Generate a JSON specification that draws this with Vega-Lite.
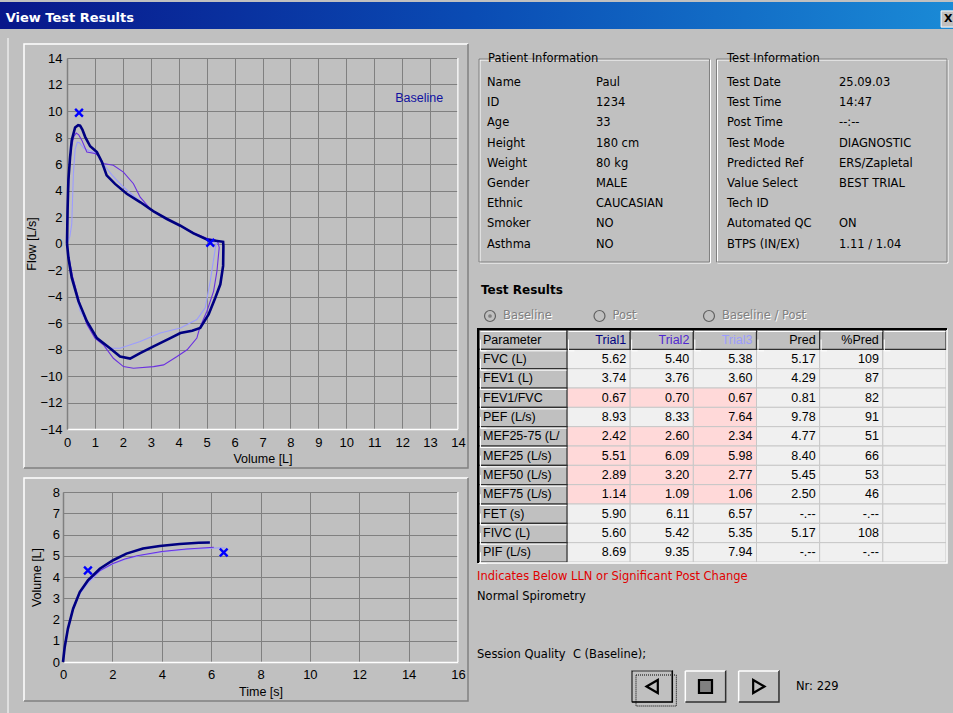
{
"$schema": "https://vega.github.io/schema/vega-lite/v6.json",
"width": 953,
"height": 713,
"autosize": {"type": "none"},
"padding": 0,
"background": "#c0c0c0",
"config": {
  "view": {"stroke": null},
  "axis": {"labelFont": "Liberation Sans", "labelFontSize": 13, "labelColor": "#000000", "titleFont": "Liberation Sans", "titleFontSize": 12.5, "titleFontWeight": "normal", "titleColor": "#000000", "ticks": false, "tickSize": 0, "gridColor": "#808080", "gridOpacity": 1, "gridWidth": 1, "labelFlush": false, "labelOverlap": false, "labelBound": false, "domainWidth": 1.5},
  "text": {"font": "DejaVu Sans", "fontSize": 11.5, "color": "#000000"}
},
"datasets": {
  "fv": [
    {"t":"Trial3","i":0,"v":0,"f":0},{"t":"Trial3","i":1,"v":0.1,"f":0.5},{"t":"Trial3","i":2,"v":0.17,"f":1.47},{"t":"Trial3","i":3,"v":0.23,"f":5.3},{"t":"Trial3","i":4,"v":0.29,"f":7.1},{"t":"Trial3","i":5,"v":0.37,"f":7.64},{"t":"Trial3","i":6,"v":0.45,"f":7.6},{"t":"Trial3","i":7,"v":0.6,"f":7.2},{"t":"Trial3","i":8,"v":0.8,"f":7.0},{"t":"Trial3","i":9,"v":1.1,"f":6.8},{"t":"Trial3","i":10,"v":1.3,"f":6.0},{"t":"Trial3","i":11,"v":1.6,"f":5.2},{"t":"Trial3","i":12,"v":2.0,"f":4.3},{"t":"Trial3","i":13,"v":2.5,"f":3.4},{"t":"Trial3","i":14,"v":3.0,"f":2.6},{"t":"Trial3","i":15,"v":3.5,"f":1.9},{"t":"Trial3","i":16,"v":4.0,"f":1.4},{"t":"Trial3","i":17,"v":4.5,"f":0.8},{"t":"Trial3","i":18,"v":5.0,"f":0.3},{"t":"Trial3","i":19,"v":5.25,"f":0.1},{"t":"Trial3","i":20,"v":5.38,"f":0},{"t":"Trial3","i":21,"v":5.33,"f":-0.1},{"t":"Trial3","i":22,"v":5.13,"f":-2.83},{"t":"Trial3","i":23,"v":4.95,"f":-4.86},{"t":"Trial3","i":24,"v":4.65,"f":-5.74},{"t":"Trial3","i":25,"v":4.06,"f":-6.38},{"t":"Trial3","i":26,"v":3.34,"f":-6.76},{"t":"Trial3","i":27,"v":2.62,"f":-7.39},{"t":"Trial3","i":28,"v":1.9,"f":-7.9},{"t":"Trial3","i":29,"v":1.54,"f":-7.9},{"t":"Trial3","i":30,"v":1.07,"f":-7.14},{"t":"Trial3","i":31,"v":0.47,"f":-5.1},{"t":"Trial3","i":32,"v":0.17,"f":-2.3},{"t":"Trial3","i":33,"v":0.05,"f":-0.6},{"t":"Trial3","i":34,"v":0,"f":0},
    {"t":"Trial2","i":0,"v":0,"f":0},{"t":"Trial2","i":1,"v":0.03,"f":3.0},{"t":"Trial2","i":2,"v":0.08,"f":5.5},{"t":"Trial2","i":3,"v":0.15,"f":7.2},{"t":"Trial2","i":4,"v":0.25,"f":8.1},{"t":"Trial2","i":5,"v":0.33,"f":8.33},{"t":"Trial2","i":6,"v":0.42,"f":8.2},{"t":"Trial2","i":7,"v":0.53,"f":7.8},{"t":"Trial2","i":8,"v":0.71,"f":6.9},{"t":"Trial2","i":9,"v":1.0,"f":6.79},{"t":"Trial2","i":10,"v":1.15,"f":6.6},{"t":"Trial2","i":11,"v":1.3,"f":6.03},{"t":"Trial2","i":12,"v":1.66,"f":5.9},{"t":"Trial2","i":13,"v":2.02,"f":5.39},{"t":"Trial2","i":14,"v":2.38,"f":4.51},{"t":"Trial2","i":15,"v":2.62,"f":3.5},{"t":"Trial2","i":16,"v":2.98,"f":2.61},{"t":"Trial2","i":17,"v":3.5,"f":1.95},{"t":"Trial2","i":18,"v":4.0,"f":1.4},{"t":"Trial2","i":19,"v":4.5,"f":0.85},{"t":"Trial2","i":20,"v":5.0,"f":0.4},{"t":"Trial2","i":21,"v":5.31,"f":0.26},{"t":"Trial2","i":22,"v":5.4,"f":0.1},{"t":"Trial2","i":23,"v":5.45,"f":-0.3},{"t":"Trial2","i":24,"v":5.37,"f":-2.07},{"t":"Trial2","i":25,"v":5.25,"f":-3.59},{"t":"Trial2","i":26,"v":5.01,"f":-5.11},{"t":"Trial2","i":27,"v":4.75,"f":-6.38},{"t":"Trial2","i":28,"v":4.65,"f":-7.14},{"t":"Trial2","i":29,"v":4.3,"f":-8.02},{"t":"Trial2","i":30,"v":3.94,"f":-8.53},{"t":"Trial2","i":31,"v":3.46,"f":-9.16},{"t":"Trial2","i":32,"v":3.1,"f":-9.29},{"t":"Trial2","i":33,"v":2.38,"f":-9.41},{"t":"Trial2","i":34,"v":2.02,"f":-9.29},{"t":"Trial2","i":35,"v":1.66,"f":-8.66},{"t":"Trial2","i":36,"v":1.3,"f":-7.64},{"t":"Trial2","i":37,"v":1.0,"f":-7.14},{"t":"Trial2","i":38,"v":0.71,"f":-6.1},{"t":"Trial2","i":39,"v":0.47,"f":-4.6},{"t":"Trial2","i":40,"v":0.2,"f":-2.5},{"t":"Trial2","i":41,"v":0.05,"f":-0.9},{"t":"Trial2","i":42,"v":0,"f":0},
    {"t":"Trial1","i":0,"v":0,"f":0},{"t":"Trial1","i":1,"v":0.02,"f":2.5},{"t":"Trial1","i":2,"v":0.05,"f":4.8},{"t":"Trial1","i":3,"v":0.11,"f":6.5},{"t":"Trial1","i":4,"v":0.17,"f":7.8},{"t":"Trial1","i":5,"v":0.29,"f":8.76},{"t":"Trial1","i":6,"v":0.4,"f":8.93},{"t":"Trial1","i":7,"v":0.47,"f":8.9},{"t":"Trial1","i":8,"v":0.55,"f":8.6},{"t":"Trial1","i":9,"v":0.65,"f":8.05},{"t":"Trial1","i":10,"v":0.83,"f":7.34},{"t":"Trial1","i":11,"v":1.07,"f":6.9},{"t":"Trial1","i":12,"v":1.25,"f":6.15},{"t":"Trial1","i":13,"v":1.42,"f":5.14},{"t":"Trial1","i":14,"v":1.72,"f":4.5},{"t":"Trial1","i":15,"v":2.14,"f":3.75},{"t":"Trial1","i":16,"v":2.63,"f":3.11},{"t":"Trial1","i":17,"v":3.1,"f":2.43},{"t":"Trial1","i":18,"v":3.58,"f":1.85},{"t":"Trial1","i":19,"v":4.06,"f":1.34},{"t":"Trial1","i":20,"v":4.53,"f":0.76},{"t":"Trial1","i":21,"v":5.01,"f":0.3},{"t":"Trial1","i":22,"v":5.59,"f":0.13},{"t":"Trial1","i":23,"v":5.6,"f":-0.2},{"t":"Trial1","i":24,"v":5.59,"f":-1.69},{"t":"Trial1","i":25,"v":5.49,"f":-3.08},{"t":"Trial1","i":26,"v":5.31,"f":-4.1},{"t":"Trial1","i":27,"v":5.07,"f":-5.36},{"t":"Trial1","i":28,"v":4.77,"f":-6.38},{"t":"Trial1","i":29,"v":4.48,"f":-6.58},{"t":"Trial1","i":30,"v":4.06,"f":-6.76},{"t":"Trial1","i":31,"v":3.7,"f":-7.14},{"t":"Trial1","i":32,"v":3.1,"f":-7.77},{"t":"Trial1","i":33,"v":2.62,"f":-8.28},{"t":"Trial1","i":34,"v":2.26,"f":-8.69},{"t":"Trial1","i":35,"v":1.9,"f":-8.53},{"t":"Trial1","i":36,"v":1.54,"f":-7.9},{"t":"Trial1","i":37,"v":1.07,"f":-7.14},{"t":"Trial1","i":38,"v":0.71,"f":-5.87},{"t":"Trial1","i":39,"v":0.41,"f":-4.35},{"t":"Trial1","i":40,"v":0.17,"f":-2.58},{"t":"Trial1","i":41,"v":0.05,"f":-1.06},{"t":"Trial1","i":42,"v":0,"f":0}
  ],
  "fvm": [{"v":0.43,"f":9.87},{"v":5.13,"f":0.05}],
  "vt": [
    {"t":"Trial3","i":0,"s":0,"l":0},{"t":"Trial3","i":1,"s":0.07,"l":0.7},{"t":"Trial3","i":2,"s":0.2,"l":1.55},{"t":"Trial3","i":3,"s":0.41,"l":2.45},{"t":"Trial3","i":4,"s":0.68,"l":3.2},{"t":"Trial3","i":5,"s":1.0,"l":3.7},{"t":"Trial3","i":6,"s":1.5,"l":4.28},{"t":"Trial3","i":7,"s":2.0,"l":4.6},{"t":"Trial3","i":8,"s":2.5,"l":4.82},{"t":"Trial3","i":9,"s":3.0,"l":4.98},{"t":"Trial3","i":10,"s":4.0,"l":5.18},{"t":"Trial3","i":11,"s":5.0,"l":5.3},{"t":"Trial3","i":12,"s":6.0,"l":5.36},{"t":"Trial3","i":13,"s":6.57,"l":5.38},
    {"t":"Trial2","i":0,"s":0,"l":0},{"t":"Trial2","i":1,"s":0.07,"l":0.75},{"t":"Trial2","i":2,"s":0.2,"l":1.6},{"t":"Trial2","i":3,"s":0.41,"l":2.55},{"t":"Trial2","i":4,"s":0.68,"l":3.3},{"t":"Trial2","i":5,"s":1.0,"l":3.8},{"t":"Trial2","i":6,"s":1.5,"l":4.3},{"t":"Trial2","i":7,"s":2.0,"l":4.62},{"t":"Trial2","i":8,"s":2.5,"l":4.85},{"t":"Trial2","i":9,"s":3.0,"l":5.0},{"t":"Trial2","i":10,"s":4.0,"l":5.2},{"t":"Trial2","i":11,"s":5.0,"l":5.32},{"t":"Trial2","i":12,"s":6.11,"l":5.4},
    {"t":"Trial1","i":0,"s":0,"l":0},{"t":"Trial1","i":1,"s":0.07,"l":0.71},{"t":"Trial1","i":2,"s":0.2,"l":1.57},{"t":"Trial1","i":3,"s":0.41,"l":2.51},{"t":"Trial1","i":4,"s":0.68,"l":3.29},{"t":"Trial1","i":5,"s":1.01,"l":3.84},{"t":"Trial1","i":6,"s":1.49,"l":4.39},{"t":"Trial1","i":7,"s":2.03,"l":4.79},{"t":"Trial1","i":8,"s":2.57,"l":5.1},{"t":"Trial1","i":9,"s":3.24,"l":5.34},{"t":"Trial1","i":10,"s":3.92,"l":5.46},{"t":"Trial1","i":11,"s":4.73,"l":5.55},{"t":"Trial1","i":12,"s":5.5,"l":5.61},{"t":"Trial1","i":13,"s":5.95,"l":5.62}
  ],
  "vtm": [{"s":1.01,"l":4.31},{"s":6.51,"l":5.15}],
  "boxes": [{"b":"Patient Information"},{"b":"Test Information"}],
  "info": [
    {"b":"Patient Information","i":0,"k":"Name","v":"Paul"},
    {"b":"Patient Information","i":1,"k":"ID","v":"1234"},
    {"b":"Patient Information","i":2,"k":"Age","v":"33"},
    {"b":"Patient Information","i":3,"k":"Height","v":"180 cm"},
    {"b":"Patient Information","i":4,"k":"Weight","v":"\u00a080 kg"},
    {"b":"Patient Information","i":5,"k":"Gender","v":"MALE"},
    {"b":"Patient Information","i":6,"k":"Ethnic","v":"CAUCASIAN"},
    {"b":"Patient Information","i":7,"k":"Smoker","v":"NO"},
    {"b":"Patient Information","i":8,"k":"Asthma","v":"NO"},
    {"b":"Test Information","i":0,"k":"Test Date","v":"25.09.03"},
    {"b":"Test Information","i":1,"k":"Test Time","v":"14:47"},
    {"b":"Test Information","i":2,"k":"Post Time","v":"--:--"},
    {"b":"Test Information","i":3,"k":"Test Mode","v":"DIAGNOSTIC"},
    {"b":"Test Information","i":4,"k":"Predicted Ref","v":"ERS/Zapletal"},
    {"b":"Test Information","i":5,"k":"Value Select","v":"BEST TRIAL"},
    {"b":"Test Information","i":6,"k":"Tech ID","v":""},
    {"b":"Test Information","i":7,"k":"Automated QC","v":"ON"},
    {"b":"Test Information","i":8,"k":"BTPS (IN/EX)","v":"1.11 / 1.04"}
  ],
  "radios": [{"o":"Baseline","sel":"yes"},{"o":"Post","sel":"no"},{"o":"Baseline / Post","sel":"no"}],
  "params": [{"p":"Parameter"},{"p":"FVC (L)"},{"p":"FEV1 (L)"},{"p":"FEV1/FVC"},{"p":"PEF (L/s)"},{"p":"MEF25-75 (L/s)"},{"p":"MEF25 (L/s)"},{"p":"MEF50 (L/s)"},{"p":"MEF75 (L/s)"},{"p":"FET (s)"},{"p":"FIVC (L)"},{"p":"PIF (L/s)"}],
  "hdr": [{"c":"Trial1","h":"Trial1"},{"c":"Trial2","h":"Trial2"},{"c":"Trial3","h":"Trial3"},{"c":"Pred","h":"Pred"},{"c":"%Pred","h":"%Pred"},{"c":"blank","h":""}],
  "cells": [
    {"p":"FVC (L)","c":"Trial1","v":"5.62","flag":"ok"},{"p":"FVC (L)","c":"Trial2","v":"5.40","flag":"ok"},{"p":"FVC (L)","c":"Trial3","v":"5.38","flag":"ok"},{"p":"FVC (L)","c":"Pred","v":"5.17","flag":"ok"},{"p":"FVC (L)","c":"%Pred","v":"109","flag":"ok"},{"p":"FVC (L)","c":"blank","v":"","flag":"ok"},
    {"p":"FEV1 (L)","c":"Trial1","v":"3.74","flag":"ok"},{"p":"FEV1 (L)","c":"Trial2","v":"3.76","flag":"ok"},{"p":"FEV1 (L)","c":"Trial3","v":"3.60","flag":"ok"},{"p":"FEV1 (L)","c":"Pred","v":"4.29","flag":"ok"},{"p":"FEV1 (L)","c":"%Pred","v":"87","flag":"ok"},{"p":"FEV1 (L)","c":"blank","v":"","flag":"ok"},
    {"p":"FEV1/FVC","c":"Trial1","v":"0.67","flag":"low"},{"p":"FEV1/FVC","c":"Trial2","v":"0.70","flag":"low"},{"p":"FEV1/FVC","c":"Trial3","v":"0.67","flag":"low"},{"p":"FEV1/FVC","c":"Pred","v":"0.81","flag":"ok"},{"p":"FEV1/FVC","c":"%Pred","v":"82","flag":"ok"},{"p":"FEV1/FVC","c":"blank","v":"","flag":"ok"},
    {"p":"PEF (L/s)","c":"Trial1","v":"8.93","flag":"ok"},{"p":"PEF (L/s)","c":"Trial2","v":"8.33","flag":"ok"},{"p":"PEF (L/s)","c":"Trial3","v":"7.64","flag":"low"},{"p":"PEF (L/s)","c":"Pred","v":"9.78","flag":"ok"},{"p":"PEF (L/s)","c":"%Pred","v":"91","flag":"ok"},{"p":"PEF (L/s)","c":"blank","v":"","flag":"ok"},
    {"p":"MEF25-75 (L/s)","c":"Trial1","v":"2.42","flag":"low"},{"p":"MEF25-75 (L/s)","c":"Trial2","v":"2.60","flag":"low"},{"p":"MEF25-75 (L/s)","c":"Trial3","v":"2.34","flag":"low"},{"p":"MEF25-75 (L/s)","c":"Pred","v":"4.77","flag":"ok"},{"p":"MEF25-75 (L/s)","c":"%Pred","v":"51","flag":"ok"},{"p":"MEF25-75 (L/s)","c":"blank","v":"","flag":"ok"},
    {"p":"MEF25 (L/s)","c":"Trial1","v":"5.51","flag":"low"},{"p":"MEF25 (L/s)","c":"Trial2","v":"6.09","flag":"low"},{"p":"MEF25 (L/s)","c":"Trial3","v":"5.98","flag":"low"},{"p":"MEF25 (L/s)","c":"Pred","v":"8.40","flag":"ok"},{"p":"MEF25 (L/s)","c":"%Pred","v":"66","flag":"ok"},{"p":"MEF25 (L/s)","c":"blank","v":"","flag":"ok"},
    {"p":"MEF50 (L/s)","c":"Trial1","v":"2.89","flag":"low"},{"p":"MEF50 (L/s)","c":"Trial2","v":"3.20","flag":"low"},{"p":"MEF50 (L/s)","c":"Trial3","v":"2.77","flag":"low"},{"p":"MEF50 (L/s)","c":"Pred","v":"5.45","flag":"ok"},{"p":"MEF50 (L/s)","c":"%Pred","v":"53","flag":"ok"},{"p":"MEF50 (L/s)","c":"blank","v":"","flag":"ok"},
    {"p":"MEF75 (L/s)","c":"Trial1","v":"1.14","flag":"low"},{"p":"MEF75 (L/s)","c":"Trial2","v":"1.09","flag":"low"},{"p":"MEF75 (L/s)","c":"Trial3","v":"1.06","flag":"low"},{"p":"MEF75 (L/s)","c":"Pred","v":"2.50","flag":"ok"},{"p":"MEF75 (L/s)","c":"%Pred","v":"46","flag":"ok"},{"p":"MEF75 (L/s)","c":"blank","v":"","flag":"ok"},
    {"p":"FET (s)","c":"Trial1","v":"5.90","flag":"ok"},{"p":"FET (s)","c":"Trial2","v":"6.11","flag":"ok"},{"p":"FET (s)","c":"Trial3","v":"6.57","flag":"ok"},{"p":"FET (s)","c":"Pred","v":"-.--","flag":"ok"},{"p":"FET (s)","c":"%Pred","v":"-.--","flag":"ok"},{"p":"FET (s)","c":"blank","v":"","flag":"ok"},
    {"p":"FIVC (L)","c":"Trial1","v":"5.60","flag":"ok"},{"p":"FIVC (L)","c":"Trial2","v":"5.42","flag":"ok"},{"p":"FIVC (L)","c":"Trial3","v":"5.35","flag":"ok"},{"p":"FIVC (L)","c":"Pred","v":"5.17","flag":"ok"},{"p":"FIVC (L)","c":"%Pred","v":"108","flag":"ok"},{"p":"FIVC (L)","c":"blank","v":"","flag":"ok"},
    {"p":"PIF (L/s)","c":"Trial1","v":"8.69","flag":"ok"},{"p":"PIF (L/s)","c":"Trial2","v":"9.35","flag":"ok"},{"p":"PIF (L/s)","c":"Trial3","v":"7.94","flag":"ok"},{"p":"PIF (L/s)","c":"Pred","v":"-.--","flag":"ok"},{"p":"PIF (L/s)","c":"%Pred","v":"-.--","flag":"ok"},{"p":"PIF (L/s)","c":"blank","v":"","flag":"ok"}
  ],
  "notes": [{"line":0,"t":"Indicates Below LLN or Significant Post Change","kind":"warn"},{"line":1,"t":"Normal Spirometry","kind":"text"},{"line":4,"t":"Session Quality\u00a0 C (Baseline);","kind":"text"}],
  "buttons": [{"b":"prev"},{"b":"stop"},{"b":"next"}]
},
"layer": [
  {"data": {"values": [{"title": "View Test Results"}]},
   "mark": {"type": "rect", "color": {"gradient": "linear", "x1": 0, "x2": 1, "y1": 0, "y2": 0, "stops": [{"offset": 0, "color": "#08168a"}, {"offset": 0.5, "color": "#0a4cb4"}, {"offset": 1, "color": "#1a8ad6"}]}},
   "encoding": {"x": {"datum": 0, "type": "quantitative", "scale": {"domain": [0, 1], "range": [0, 953]}, "axis": null}, "x2": {"datum": 1}, "y": {"datum": 0, "type": "quantitative", "scale": {"domain": [0, 1], "range": [2, 29]}, "axis": null}, "y2": {"datum": 1}}},
  {"data": {"values": [{"title": "View Test Results"}]},
   "mark": {"type": "text", "align": "left", "baseline": "middle", "font": "DejaVu Sans", "fontSize": 13, "fontWeight": "bold", "color": "#ffffff"},
   "encoding": {"text": {"field": "title"}, "x": {"datum": 0.006, "type": "quantitative", "scale": {"domain": [0, 1], "range": [0, 953]}, "axis": null}, "y": {"datum": 0.58, "type": "quantitative", "scale": {"domain": [0, 1], "range": [2, 29]}, "axis": null}}},
  {"data": {"values": [{"x": "X"}]},
   "mark": {"type": "rect", "fill": "#c0c0c0", "stroke": "#ffffff", "strokeWidth": 1},
   "encoding": {"x": {"datum": 0.9875, "type": "quantitative", "scale": {"domain": [0, 1], "range": [0, 953]}, "axis": null}, "x2": {"datum": 1.02}, "y": {"datum": 0.33, "type": "quantitative", "scale": {"domain": [0, 1], "range": [2, 29]}, "axis": null}, "y2": {"datum": 0.93}}},
  {"data": {"values": [{"x": "X"}]},
   "mark": {"type": "text", "align": "left", "baseline": "middle", "font": "DejaVu Sans", "fontSize": 11, "fontWeight": "bold", "color": "#000000"},
   "encoding": {"text": {"field": "x"}, "x": {"datum": 0.9905, "type": "quantitative", "scale": {"domain": [0, 1], "range": [0, 953]}, "axis": null}, "y": {"datum": 0.64, "type": "quantitative", "scale": {"domain": [0, 1], "range": [2, 29]}, "axis": null}}},

  {"data": {"values": [{"panel": "flow"}]},
   "mark": {"type": "rect", "filled": false, "color": "#ffffff", "strokeWidth": 1.5, "strokeDash": [444, 868, 424]},
   "encoding": {"x": {"datum": "p", "type": "nominal", "scale": {"type": "band", "domain": ["p"], "range": [24, 468], "paddingInner": 0, "paddingOuter": 0}, "axis": null},
                "y": {"datum": "p", "type": "nominal", "scale": {"type": "band", "domain": ["p"], "range": [44, 468], "paddingInner": 0, "paddingOuter": 0}, "axis": null}}},
  {"data": {"values": [{"panel": "flow"}]},
   "mark": {"type": "rect", "filled": false, "color": "#808080", "strokeWidth": 1.5, "strokeDash": [0, 444, 868, 424]},
   "encoding": {"x": {"datum": "p", "type": "nominal", "scale": {"type": "band", "domain": ["p"], "range": [24, 468], "paddingInner": 0, "paddingOuter": 0}, "axis": null},
                "y": {"datum": "p", "type": "nominal", "scale": {"type": "band", "domain": ["p"], "range": [44, 468], "paddingInner": 0, "paddingOuter": 0}, "axis": null}}},
  {"data": {"values": [{"panel": "time"}]},
   "mark": {"type": "rect", "filled": false, "color": "#ffffff", "strokeWidth": 1.5, "strokeDash": [444, 667, 223]},
   "encoding": {"x": {"datum": "p", "type": "nominal", "scale": {"type": "band", "domain": ["p"], "range": [24, 468], "paddingInner": 0, "paddingOuter": 0}, "axis": null},
                "y": {"datum": "p", "type": "nominal", "scale": {"type": "band", "domain": ["p"], "range": [478, 701], "paddingInner": 0, "paddingOuter": 0}, "axis": null}}},
  {"data": {"values": [{"panel": "time"}]},
   "mark": {"type": "rect", "filled": false, "color": "#808080", "strokeWidth": 1.5, "strokeDash": [0, 444, 667, 223]},
   "encoding": {"x": {"datum": "p", "type": "nominal", "scale": {"type": "band", "domain": ["p"], "range": [24, 468], "paddingInner": 0, "paddingOuter": 0}, "axis": null},
                "y": {"datum": "p", "type": "nominal", "scale": {"type": "band", "domain": ["p"], "range": [478, 701], "paddingInner": 0, "paddingOuter": 0}, "axis": null}}},
  {"data": {"values": [{"panel": "left"}]},
   "mark": {"type": "rule", "color": "#ffffff", "strokeWidth": 1},
   "encoding": {"x": {"datum": "p", "type": "nominal", "scale": {"type": "band", "domain": ["p"], "range": [8, 470], "paddingInner": 0, "paddingOuter": 0}, "bandPosition": 0, "axis": null},
                "y": {"datum": 0, "type": "quantitative", "scale": {"domain": [0, 1], "range": [38, 713]}, "axis": null}, "y2": {"datum": 1}}},

  {"data": {"name": "fv"},
   "transform": [{"filter": "datum.t !== 'Trial1'"}],
   "mark": {"type": "line", "strokeWidth": 1.1},
   "encoding": {
     "x": {"field": "v", "type": "quantitative", "scale": {"domain": [0, 14], "range": [67, 458], "nice": false, "zero": false},
           "axis": {"orient": "bottom", "offset": -284, "values": [0,1,2,3,4,5,6,7,8,9,10,11,12,13,14], "grid": false, "domainColor": "#ffffff", "labelPadding": 7.5, "title": "Volume [L]", "titlePadding": 3}},
     "y": {"field": "f", "type": "quantitative", "scale": {"domain": [-14, 14], "range": [429, 58], "nice": false, "zero": false},
           "axis": {"orient": "left", "offset": -67, "values": [-14,-12,-10,-8,-6,-4,-2,0,2,4,6,8,10,12,14], "grid": true, "domainColor": "#808080", "labelPadding": 5, "title": "Flow [L/s]", "titlePadding": 1}},
     "color": {"field": "t", "type": "nominal", "scale": {"domain": ["Trial1", "Trial2", "Trial3"], "range": ["#000080", "#6a30e0", "#9c9cff"]}, "legend": null},
     "order": {"field": "i", "type": "quantitative"}
   }},
  {"data": {"name": "fv"},
   "transform": [{"filter": "datum.t === 'Trial1'"}],
   "mark": {"type": "line", "strokeWidth": 2.6},
   "encoding": {
     "x": {"field": "v", "type": "quantitative", "scale": {"domain": [0, 14], "range": [67, 458], "nice": false, "zero": false},
           "axis": {"orient": "top", "offset": 0, "values": [0,1,2,3,4,5,6,7,8,9,10,11,12,13,14], "grid": true, "labels": false, "domain": false, "ticks": false, "title": null}},
     "y": {"field": "f", "type": "quantitative", "scale": {"domain": [-14, 14], "range": [429, 58], "nice": false, "zero": false}, "axis": null},
     "color": {"field": "t", "type": "nominal", "scale": {"domain": ["Trial1", "Trial2", "Trial3"], "range": ["#000080", "#6a30e0", "#9c9cff"]}, "legend": null},
     "order": {"field": "i", "type": "quantitative"}
   }},
  {"data": {"name": "fvm"},
   "mark": {"type": "point", "shape": "M-1,-1L1,1M1,-1L-1,1", "filled": false, "size": 60, "strokeWidth": 2.4, "color": "#0000ff", "opacity": 1},
   "encoding": {
     "x": {"field": "v", "type": "quantitative", "scale": {"domain": [0, 14], "range": [67, 458], "nice": false, "zero": false}, "axis": null},
     "y": {"field": "f", "type": "quantitative", "scale": {"domain": [-14, 14], "range": [429, 58], "nice": false, "zero": false}, "axis": null}
   }},
  {"data": {"values": [{"label": "Baseline"}]},
   "mark": {"type": "text", "align": "left", "baseline": "middle", "font": "Liberation Sans", "fontSize": 12.5, "color": "#1010a0"},
   "encoding": {
     "text": {"field": "label"},
     "x": {"datum": 11.75, "type": "quantitative", "scale": {"domain": [0, 14], "range": [67, 458], "nice": false, "zero": false}, "axis": null},
     "y": {"datum": 11, "type": "quantitative", "scale": {"domain": [-14, 14], "range": [429, 58], "nice": false, "zero": false}, "axis": null}
   }},
  {"data": {"values": [{"edge": "right"}]},
   "mark": {"type": "rule", "color": "#ffffff", "strokeWidth": 1.5},
   "encoding": {
     "x": {"datum": 14, "type": "quantitative", "scale": {"domain": [0, 14], "range": [67, 458], "nice": false, "zero": false}, "axis": null},
     "y": {"datum": -14, "type": "quantitative", "scale": {"domain": [-14, 14], "range": [429, 58], "nice": false, "zero": false}, "axis": null},
     "y2": {"datum": 14}
   }},

  {"data": {"name": "vt"},
   "transform": [{"filter": "datum.t !== 'Trial1'"}],
   "mark": {"type": "line", "strokeWidth": 1.1},
   "encoding": {
     "x": {"field": "s", "type": "quantitative", "scale": {"domain": [0, 16], "range": [63, 458], "nice": false, "zero": false},
           "axis": {"orient": "bottom", "offset": -51, "values": [0,2,4,6,8,10,12,14,16], "grid": false, "domainColor": "#ffffff", "labelPadding": 6.5, "title": "Time [s]", "titlePadding": 4}},
     "y": {"field": "l", "type": "quantitative", "scale": {"domain": [0, 8], "range": [662, 492], "nice": false, "zero": false},
           "axis": {"orient": "left", "offset": -63, "values": [0,1,2,3,4,5,6,7,8], "grid": true, "domainColor": "#808080", "labelPadding": 3.5, "title": "Volume [L]", "titlePadding": 9}},
     "color": {"field": "t", "type": "nominal", "scale": {"domain": ["Trial1", "Trial2", "Trial3"], "range": ["#000080", "#6a30e0", "#9c9cff"]}, "legend": null},
     "order": {"field": "i", "type": "quantitative"}
   }},
  {"data": {"name": "vt"},
   "transform": [{"filter": "datum.t === 'Trial1'"}],
   "mark": {"type": "line", "strokeWidth": 2.6},
   "encoding": {
     "x": {"field": "s", "type": "quantitative", "scale": {"domain": [0, 16], "range": [63, 458], "nice": false, "zero": false},
           "axis": {"orient": "top", "offset": 0, "values": [0,2,4,6,8,10,12,14,16], "grid": true, "labels": false, "domain": false, "ticks": false, "title": null}},
     "y": {"field": "l", "type": "quantitative", "scale": {"domain": [0, 8], "range": [662, 492], "nice": false, "zero": false}, "axis": null},
     "color": {"field": "t", "type": "nominal", "scale": {"domain": ["Trial1", "Trial2", "Trial3"], "range": ["#000080", "#6a30e0", "#9c9cff"]}, "legend": null},
     "order": {"field": "i", "type": "quantitative"}
   }},
  {"data": {"name": "vtm"},
   "mark": {"type": "point", "shape": "M-1,-1L1,1M1,-1L-1,1", "filled": false, "size": 60, "strokeWidth": 2.4, "color": "#0000ff", "opacity": 1},
   "encoding": {
     "x": {"field": "s", "type": "quantitative", "scale": {"domain": [0, 16], "range": [63, 458], "nice": false, "zero": false}, "axis": null},
     "y": {"field": "l", "type": "quantitative", "scale": {"domain": [0, 8], "range": [662, 492], "nice": false, "zero": false}, "axis": null}
   }},
  {"data": {"values": [{"edge": "right"}]},
   "mark": {"type": "rule", "color": "#ffffff", "strokeWidth": 1.5},
   "encoding": {
     "x": {"datum": 16, "type": "quantitative", "scale": {"domain": [0, 16], "range": [63, 458], "nice": false, "zero": false}, "axis": null},
     "y": {"datum": 0, "type": "quantitative", "scale": {"domain": [0, 8], "range": [662, 492], "nice": false, "zero": false}, "axis": null},
     "y2": {"datum": 8}
   }},

  {"data": {"name": "boxes"},
   "mark": {"type": "rect", "filled": false, "color": "#ffffff", "strokeWidth": 1, "xOffset": 1, "x2Offset": 1, "yOffset": 1, "y2Offset": 1},
   "encoding": {
     "x": {"field": "b", "type": "nominal", "scale": {"type": "band", "domain": ["Patient Information", "Test Information"], "range": [479, 947], "paddingInner": 0.0295, "paddingOuter": 0}, "axis": null},
     "y": {"datum": "f", "type": "nominal", "scale": {"type": "band", "domain": ["f"], "range": [59, 262], "paddingInner": 0, "paddingOuter": 0}, "axis": null},
     "strokeDash": {"field": "b", "type": "nominal", "scale": {"domain": ["Patient Information", "Test Information"], "range": [[5, 118, 10000], [5, 104, 10000]]}, "legend": null}
   }},
  {"data": {"name": "boxes"},
   "mark": {"type": "rect", "filled": false, "color": "#808080", "strokeWidth": 1},
   "encoding": {
     "x": {"field": "b", "type": "nominal", "scale": {"type": "band", "domain": ["Patient Information", "Test Information"], "range": [479, 947], "paddingInner": 0.0295, "paddingOuter": 0}, "axis": null},
     "y": {"datum": "f", "type": "nominal", "scale": {"type": "band", "domain": ["f"], "range": [59, 262], "paddingInner": 0, "paddingOuter": 0}, "axis": null},
     "strokeDash": {"field": "b", "type": "nominal", "scale": {"domain": ["Patient Information", "Test Information"], "range": [[5, 118, 10000], [5, 104, 10000]]}, "legend": null}
   }},
  {"data": {"name": "boxes"},
   "mark": {"type": "text", "align": "left", "baseline": "middle"},
   "encoding": {
     "text": {"field": "b"},
     "x": {"field": "b", "type": "nominal", "scale": {"type": "point", "domain": ["Patient Information", "Test Information"], "range": [488, 727], "padding": 0}, "axis": null},
     "y": {"datum": "f", "type": "nominal", "scale": {"type": "band", "domain": ["f"], "range": [59, 262], "paddingInner": 0, "paddingOuter": 0}, "bandPosition": 0, "axis": null}
   }},
  {"data": {"name": "info"},
   "mark": {"type": "text", "align": "left", "baseline": "middle"},
   "encoding": {
     "text": {"field": "k"},
     "x": {"field": "b", "type": "nominal", "scale": {"type": "point", "domain": ["Patient Information", "Test Information"], "range": [487, 727], "padding": 0}, "axis": null},
     "y": {"field": "i", "type": "ordinal", "scale": {"type": "point", "domain": [0,1,2,3,4,5,6,7,8], "range": [83, 244.5], "padding": 0}, "axis": null}
   }},
  {"data": {"name": "info"},
   "mark": {"type": "text", "align": "left", "baseline": "middle"},
   "encoding": {
     "text": {"field": "v"},
     "x": {"field": "b", "type": "nominal", "scale": {"type": "point", "domain": ["Patient Information", "Test Information"], "range": [596, 839], "padding": 0}, "axis": null},
     "y": {"field": "i", "type": "ordinal", "scale": {"type": "point", "domain": [0,1,2,3,4,5,6,7,8], "range": [83, 244.5], "padding": 0}, "axis": null}
   }},

  {"data": {"values": [{"t": "Test Results"}]},
   "mark": {"type": "text", "align": "left", "baseline": "middle", "fontWeight": "bold", "fontSize": 12},
   "encoding": {
     "text": {"field": "t"},
     "x": {"datum": "tr", "type": "nominal", "scale": {"type": "band", "domain": ["tr"], "range": [481, 600], "paddingInner": 0, "paddingOuter": 0}, "bandPosition": 0, "axis": null},
     "y": {"datum": "tr", "type": "nominal", "scale": {"type": "band", "domain": ["tr"], "range": [282, 298], "paddingInner": 0, "paddingOuter": 0}, "axis": null}
   }},
  {"data": {"name": "radios"},
   "mark": {"type": "point", "shape": "circle", "size": 120, "filled": true, "fill": "#c0c0c0", "stroke": "#606060", "strokeWidth": 1.2, "opacity": 1},
   "encoding": {
     "x": {"field": "o", "type": "nominal", "scale": {"type": "point", "domain": ["Baseline", "Post", "Baseline / Post"], "range": [490, 709], "padding": 0}, "axis": null},
     "y": {"datum": "r", "type": "nominal", "scale": {"type": "band", "domain": ["r"], "range": [308, 324], "paddingInner": 0, "paddingOuter": 0}, "axis": null}
   }},
  {"data": {"name": "radios"},
   "transform": [{"filter": "datum.sel === 'yes'"}],
   "mark": {"type": "point", "shape": "circle", "size": 14, "filled": true, "color": "#808080", "opacity": 1},
   "encoding": {
     "x": {"field": "o", "type": "nominal", "scale": {"type": "point", "domain": ["Baseline", "Post", "Baseline / Post"], "range": [490, 709], "padding": 0}, "axis": null},
     "y": {"datum": "r", "type": "nominal", "scale": {"type": "band", "domain": ["r"], "range": [308, 324], "paddingInner": 0, "paddingOuter": 0}, "axis": null}
   }},
  {"data": {"name": "radios"},
   "mark": {"type": "text", "align": "left", "baseline": "middle", "dx": 14, "dy": 1, "color": "#ffffff"},
   "encoding": {
     "text": {"field": "o"},
     "x": {"field": "o", "type": "nominal", "scale": {"type": "point", "domain": ["Baseline", "Post", "Baseline / Post"], "range": [490, 709], "padding": 0}, "axis": null},
     "y": {"datum": "r", "type": "nominal", "scale": {"type": "band", "domain": ["r"], "range": [308, 324], "paddingInner": 0, "paddingOuter": 0}, "axis": null}
   }},
  {"data": {"name": "radios"},
   "mark": {"type": "text", "align": "left", "baseline": "middle", "dx": 13, "color": "#808080"},
   "encoding": {
     "text": {"field": "o"},
     "x": {"field": "o", "type": "nominal", "scale": {"type": "point", "domain": ["Baseline", "Post", "Baseline / Post"], "range": [490, 709], "padding": 0}, "axis": null},
     "y": {"datum": "r", "type": "nominal", "scale": {"type": "band", "domain": ["r"], "range": [308, 324], "paddingInner": 0, "paddingOuter": 0}, "axis": null}
   }},

  {"data": {"name": "cells"},
   "mark": {"type": "rect", "stroke": "#c8c8c8", "strokeWidth": 1},
   "encoding": {
     "x": {"field": "c", "type": "nominal", "scale": {"type": "band", "domain": ["Trial1", "Trial2", "Trial3", "Pred", "%Pred", "blank"], "range": [567, 946], "paddingInner": 0, "paddingOuter": 0}, "axis": null},
     "y": {"field": "p", "type": "nominal", "scale": {"type": "band", "domain": ["Parameter", "FVC (L)", "FEV1 (L)", "FEV1/FVC", "PEF (L/s)", "MEF25-75 (L/s)", "MEF25 (L/s)", "MEF50 (L/s)", "MEF75 (L/s)", "FET (s)", "FIVC (L)", "PIF (L/s)"], "range": [330, 562], "paddingInner": 0, "paddingOuter": 0}, "axis": null},
     "fill": {"field": "flag", "type": "nominal", "scale": {"domain": ["ok", "low"], "range": ["#f0f0f0", "#ffd9d9"]}, "legend": null}
   }},
  {"data": {"name": "params"},
   "mark": {"type": "rect", "fill": "#c0c0c0", "stroke": "#303030", "strokeWidth": 1.2},
   "encoding": {
     "x": {"datum": "param", "type": "nominal", "scale": {"type": "band", "domain": ["param"], "range": [479, 567], "paddingInner": 0, "paddingOuter": 0}, "axis": null},
     "y": {"field": "p", "type": "nominal", "scale": {"type": "band", "domain": ["Parameter", "FVC (L)", "FEV1 (L)", "FEV1/FVC", "PEF (L/s)", "MEF25-75 (L/s)", "MEF25 (L/s)", "MEF50 (L/s)", "MEF75 (L/s)", "FET (s)", "FIVC (L)", "PIF (L/s)"], "range": [330, 562], "paddingInner": 0, "paddingOuter": 0}, "axis": null}
   }},
  {"data": {"name": "params"},
   "mark": {"type": "rect", "filled": false, "color": "#ffffff", "strokeWidth": 1, "strokeDash": [86, 103.3, 17.3], "xOffset": 1.5, "x2Offset": -1.5, "yOffset": 1.5, "y2Offset": -1.5},
   "encoding": {
     "x": {"datum": "param", "type": "nominal", "scale": {"type": "band", "domain": ["param"], "range": [479, 567], "paddingInner": 0, "paddingOuter": 0}, "axis": null},
     "y": {"field": "p", "type": "nominal", "scale": {"type": "band", "domain": ["Parameter", "FVC (L)", "FEV1 (L)", "FEV1/FVC", "PEF (L/s)", "MEF25-75 (L/s)", "MEF25 (L/s)", "MEF50 (L/s)", "MEF75 (L/s)", "FET (s)", "FIVC (L)", "PIF (L/s)"], "range": [330, 562], "paddingInner": 0, "paddingOuter": 0}, "axis": null}
   }},
  {"data": {"name": "hdr"},
   "mark": {"type": "rect", "fill": "#c0c0c0", "stroke": "#303030", "strokeWidth": 1.2},
   "encoding": {
     "x": {"field": "c", "type": "nominal", "scale": {"type": "band", "domain": ["Trial1", "Trial2", "Trial3", "Pred", "%Pred", "blank"], "range": [567, 946], "paddingInner": 0, "paddingOuter": 0}, "axis": null},
     "y": {"datum": "Parameter", "type": "nominal", "scale": {"type": "band", "domain": ["Parameter", "FVC (L)", "FEV1 (L)", "FEV1/FVC", "PEF (L/s)", "MEF25-75 (L/s)", "MEF25 (L/s)", "MEF50 (L/s)", "MEF75 (L/s)", "FET (s)", "FIVC (L)", "PIF (L/s)"], "range": [330, 562], "paddingInner": 0, "paddingOuter": 0}, "axis": null}
   }},
  {"data": {"name": "hdr"},
   "mark": {"type": "rect", "filled": false, "color": "#ffffff", "strokeWidth": 1, "strokeDash": [61.2, 78.5, 17.3], "xOffset": 1.5, "x2Offset": -1.5, "yOffset": 1.5, "y2Offset": -1.5},
   "encoding": {
     "x": {"field": "c", "type": "nominal", "scale": {"type": "band", "domain": ["Trial1", "Trial2", "Trial3", "Pred", "%Pred", "blank"], "range": [567, 946], "paddingInner": 0, "paddingOuter": 0}, "axis": null},
     "y": {"datum": "Parameter", "type": "nominal", "scale": {"type": "band", "domain": ["Parameter", "FVC (L)", "FEV1 (L)", "FEV1/FVC", "PEF (L/s)", "MEF25-75 (L/s)", "MEF25 (L/s)", "MEF50 (L/s)", "MEF75 (L/s)", "FET (s)", "FIVC (L)", "PIF (L/s)"], "range": [330, 562], "paddingInner": 0, "paddingOuter": 0}, "axis": null}
   }},
  {"data": {"values": [{"frame": "table"}]},
   "mark": {"type": "rect", "filled": false, "color": "#ffffff", "strokeWidth": 1.5, "strokeDash": [0, 469, 703, 234]},
   "encoding": {"x": {"datum": "t", "type": "nominal", "scale": {"type": "band", "domain": ["t"], "range": [478, 947], "paddingInner": 0, "paddingOuter": 0}, "axis": null},
                "y": {"datum": "t", "type": "nominal", "scale": {"type": "band", "domain": ["t"], "range": [329, 563], "paddingInner": 0, "paddingOuter": 0}, "axis": null}}},
  {"data": {"values": [{"frame": "table"}]},
   "mark": {"type": "rect", "filled": false, "color": "#000000", "strokeWidth": 2, "strokeDash": [469, 703, 234]},
   "encoding": {"x": {"datum": "t", "type": "nominal", "scale": {"type": "band", "domain": ["t"], "range": [478, 947], "paddingInner": 0, "paddingOuter": 0}, "axis": null},
                "y": {"datum": "t", "type": "nominal", "scale": {"type": "band", "domain": ["t"], "range": [329, 563], "paddingInner": 0, "paddingOuter": 0}, "axis": null}}},
  {"data": {"name": "params"},
   "mark": {"type": "text", "align": "left", "baseline": "middle", "dx": 4, "font": "Liberation Sans", "fontSize": 12.5, "limit": 82, "ellipsis": " "},
   "encoding": {
     "text": {"field": "p"},
     "x": {"datum": "param", "type": "nominal", "scale": {"type": "band", "domain": ["param"], "range": [479, 567], "paddingInner": 0, "paddingOuter": 0}, "bandPosition": 0, "axis": null},
     "y": {"field": "p", "type": "nominal", "scale": {"type": "band", "domain": ["Parameter", "FVC (L)", "FEV1 (L)", "FEV1/FVC", "PEF (L/s)", "MEF25-75 (L/s)", "MEF25 (L/s)", "MEF50 (L/s)", "MEF75 (L/s)", "FET (s)", "FIVC (L)", "PIF (L/s)"], "range": [330, 562], "paddingInner": 0, "paddingOuter": 0}, "axis": null}
   }},
  {"data": {"name": "cells"},
   "mark": {"type": "text", "align": "right", "baseline": "middle", "dx": -4, "font": "Liberation Sans", "fontSize": 12.5},
   "encoding": {
     "text": {"field": "v"},
     "x": {"field": "c", "type": "nominal", "scale": {"type": "band", "domain": ["Trial1", "Trial2", "Trial3", "Pred", "%Pred", "blank"], "range": [567, 946], "paddingInner": 0, "paddingOuter": 0}, "bandPosition": 1, "axis": null},
     "y": {"field": "p", "type": "nominal", "scale": {"type": "band", "domain": ["Parameter", "FVC (L)", "FEV1 (L)", "FEV1/FVC", "PEF (L/s)", "MEF25-75 (L/s)", "MEF25 (L/s)", "MEF50 (L/s)", "MEF75 (L/s)", "FET (s)", "FIVC (L)", "PIF (L/s)"], "range": [330, 562], "paddingInner": 0, "paddingOuter": 0}, "axis": null}
   }},
  {"data": {"name": "hdr"},
   "mark": {"type": "text", "align": "right", "baseline": "middle", "dx": -4, "font": "Liberation Sans", "fontSize": 12.5},
   "encoding": {
     "text": {"field": "h"},
     "x": {"field": "c", "type": "nominal", "scale": {"type": "band", "domain": ["Trial1", "Trial2", "Trial3", "Pred", "%Pred", "blank"], "range": [567, 946], "paddingInner": 0, "paddingOuter": 0}, "bandPosition": 1, "axis": null},
     "y": {"datum": "Parameter", "type": "nominal", "scale": {"type": "band", "domain": ["Parameter", "FVC (L)", "FEV1 (L)", "FEV1/FVC", "PEF (L/s)", "MEF25-75 (L/s)", "MEF25 (L/s)", "MEF50 (L/s)", "MEF75 (L/s)", "FET (s)", "FIVC (L)", "PIF (L/s)"], "range": [330, 562], "paddingInner": 0, "paddingOuter": 0}, "axis": null},
     "color": {"field": "c", "type": "nominal", "scale": {"domain": ["Trial1", "Trial2", "Trial3", "Pred", "%Pred", "blank"], "range": ["#000080", "#5028d0", "#9c9cff", "#000000", "#000000", "#000000"]}, "legend": null}
   }},

  {"data": {"name": "notes"},
   "mark": {"type": "text", "align": "left", "baseline": "middle"},
   "encoding": {
     "text": {"field": "t"},
     "x": {"datum": "n", "type": "nominal", "scale": {"type": "band", "domain": ["n"], "range": [477, 940], "paddingInner": 0, "paddingOuter": 0}, "bandPosition": 0, "axis": null},
     "y": {"field": "line", "type": "ordinal", "scale": {"type": "point", "domain": [0, 1, 2, 3, 4], "range": [577, 655], "padding": 0}, "axis": null},
     "color": {"field": "kind", "type": "nominal", "scale": {"domain": ["warn", "text"], "range": ["#e00000", "#000000"]}, "legend": null}
   }},

  {"data": {"name": "buttons"},
   "mark": {"type": "rect", "fill": "#c0c0c0", "stroke": "#ffffff", "strokeWidth": 1.5, "strokeDash": [40.3, 71.3, 31]},
   "encoding": {
     "x": {"field": "b", "type": "nominal", "scale": {"type": "band", "domain": ["prev", "stop", "next", "nr"], "range": [632, 832.3], "paddingInner": 0.2437, "paddingOuter": 0}, "axis": null},
     "y": {"datum": "btn", "type": "nominal", "scale": {"type": "band", "domain": ["btn"], "range": [671, 702], "paddingInner": 0, "paddingOuter": 0}, "axis": null}
   }},
  {"data": {"name": "buttons"},
   "mark": {"type": "rect", "filled": false, "color": "#303030", "strokeWidth": 1.5, "strokeDash": [0, 40.3, 71.3, 31]},
   "encoding": {
     "x": {"field": "b", "type": "nominal", "scale": {"type": "band", "domain": ["prev", "stop", "next", "nr"], "range": [632, 832.3], "paddingInner": 0.2437, "paddingOuter": 0}, "axis": null},
     "y": {"datum": "btn", "type": "nominal", "scale": {"type": "band", "domain": ["btn"], "range": [671, 702], "paddingInner": 0, "paddingOuter": 0}, "axis": null}
   }},
  {"data": {"name": "buttons"},
   "transform": [{"filter": "datum.b === 'prev'"}],
   "mark": {"type": "rect", "filled": false, "color": "#000000", "strokeWidth": 1.2},
   "encoding": {
     "x": {"field": "b", "type": "nominal", "scale": {"type": "band", "domain": ["prev", "stop", "next", "nr"], "range": [632, 832.3], "paddingInner": 0.2437, "paddingOuter": 0}, "axis": null},
     "y": {"datum": "btn", "type": "nominal", "scale": {"type": "band", "domain": ["btn"], "range": [671, 702], "paddingInner": 0, "paddingOuter": 0}, "axis": null}
   }},
  {"data": {"name": "buttons"},
   "transform": [{"filter": "datum.b === 'prev'"}],
   "mark": {"type": "rect", "filled": false, "color": "#000000", "strokeWidth": 1, "strokeDash": [1, 1], "xOffset": 4, "x2Offset": -4, "yOffset": 4, "y2Offset": -4},
   "encoding": {
     "x": {"field": "b", "type": "nominal", "scale": {"type": "band", "domain": ["prev", "stop", "next", "nr"], "range": [632, 832.3], "paddingInner": 0.2437, "paddingOuter": 0}, "axis": null},
     "y": {"datum": "btn", "type": "nominal", "scale": {"type": "band", "domain": ["btn"], "range": [671, 702], "paddingInner": 0, "paddingOuter": 0}, "axis": null}
   }},
  {"data": {"name": "buttons"},
   "mark": {"type": "point", "filled": true, "size": 170, "stroke": "#000000", "strokeWidth": 2.2, "opacity": 1},
   "encoding": {
     "x": {"field": "b", "type": "nominal", "scale": {"type": "band", "domain": ["prev", "stop", "next", "nr"], "range": [632, 832.3], "paddingInner": 0.2437, "paddingOuter": 0}, "axis": null},
     "y": {"datum": "btn", "type": "nominal", "scale": {"type": "band", "domain": ["btn"], "range": [671, 702], "paddingInner": 0, "paddingOuter": 0}, "axis": null},
     "shape": {"field": "b", "type": "nominal", "scale": {"domain": ["prev", "stop", "next"], "range": ["triangle-left", "square", "triangle-right"]}, "legend": null},
     "fill": {"field": "b", "type": "nominal", "scale": {"domain": ["prev", "stop", "next"], "range": ["#c0c0c0", "#808080", "#c0c0c0"]}, "legend": null}
   }},
  {"data": {"values": [{"t": "Nr: 229"}]},
   "mark": {"type": "text", "align": "left", "baseline": "middle", "dx": 4},
   "encoding": {
     "text": {"field": "t"},
     "x": {"datum": "nr", "type": "nominal", "scale": {"type": "band", "domain": ["prev", "stop", "next", "nr"], "range": [632, 832.3], "paddingInner": 0.2437, "paddingOuter": 0}, "bandPosition": 0, "axis": null},
     "y": {"datum": "btn", "type": "nominal", "scale": {"type": "band", "domain": ["btn"], "range": [671, 702], "paddingInner": 0, "paddingOuter": 0}, "axis": null}
   }}
],
"resolve": {
  "scale": {"x": "independent", "y": "independent", "color": "independent", "fill": "independent", "shape": "independent", "strokeDash": "independent"},
  "axis": {"x": "independent", "y": "independent"}
}
}
